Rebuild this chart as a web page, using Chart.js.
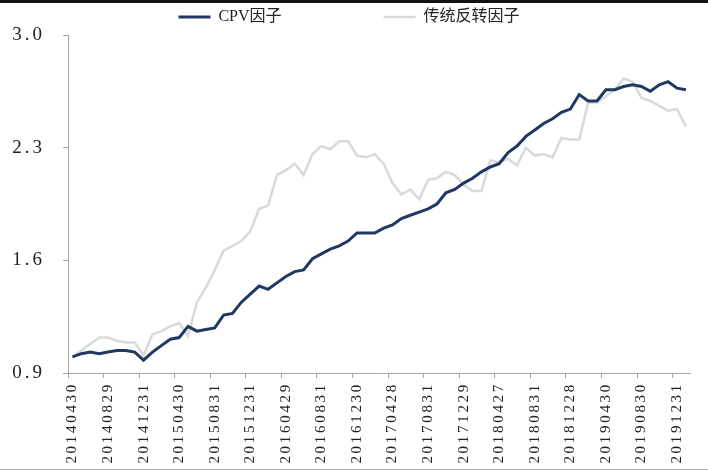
<!DOCTYPE html>
<html>
<head>
<meta charset="utf-8">
<script src="https://cdn.jsdelivr.net/npm/chart.js@4.4.1/dist/chart.umd.min.js"></script>
<style>
  html, body { margin: 0; padding: 0; background: #fff; }
  #wrap { position: relative; width: 708px; height: 471px; }
  #topBar { position: absolute; left: 0; top: 0; width: 708px; height: 3px; background: #111; }
  #bottomLine { position: absolute; left: 0; top: 469px; width: 708px; height: 1px; background: #aaa; }
</style>
</head>
<body>
<div id="wrap">
  <canvas id="chartCanvas" width="708" height="471"></canvas>
  <div id="topBar"></div>
  <div id="bottomLine"></div>
</div>
<script>
const dates = [
  "20140430", "20140530", "20140630", "20140731", "20140829", "20140930", "20141031", "20141128", "20141231",
  "20150130", "20150227", "20150331", "20150430", "20150529", "20150630", "20150731", "20150831", "20150930", "20151030", "20151130", "20151231",
  "20160129", "20160229", "20160331", "20160429", "20160531", "20160630", "20160729", "20160831", "20160930", "20161031", "20161130", "20161230",
  "20170126", "20170228", "20170331", "20170428", "20170531", "20170630", "20170731", "20170831", "20170929", "20171031", "20171130", "20171229",
  "20180131", "20180228", "20180330", "20180427", "20180531", "20180629", "20180731", "20180831", "20180928", "20181031", "20181130", "20181228",
  "20190131", "20190228", "20190329", "20190430", "20190531", "20190628", "20190731", "20190830", "20190930", "20191031", "20191129", "20191231",
  "20200123"
];

const cpv = [
  1.00, 1.02, 1.03, 1.02, 1.03, 1.04, 1.04, 1.03, 0.98, 1.03,
  1.07, 1.11, 1.12, 1.19, 1.16, 1.17, 1.18, 1.26, 1.27, 1.34,
  1.39, 1.44, 1.42, 1.46, 1.50, 1.53, 1.54, 1.61, 1.64, 1.67,
  1.69, 1.72, 1.77, 1.77, 1.77, 1.80, 1.82, 1.86, 1.88, 1.90,
  1.92, 1.95, 2.02, 2.04, 2.08, 2.11, 2.15, 2.18, 2.20, 2.27,
  2.31, 2.37, 2.41, 2.45, 2.48, 2.52, 2.54, 2.63, 2.59, 2.59,
  2.66, 2.66, 2.68, 2.69, 2.68, 2.65, 2.69, 2.71, 2.67, 2.66
];

const reversal = [
  1.00, 1.04, 1.08, 1.12, 1.12, 1.10, 1.09, 1.09, 1.01, 1.14,
  1.16, 1.19, 1.21, 1.13, 1.34, 1.43, 1.54, 1.66, 1.69, 1.72,
  1.78, 1.92, 1.94, 2.13, 2.16, 2.20, 2.13, 2.26, 2.31, 2.29,
  2.34, 2.34, 2.25, 2.24, 2.26, 2.20, 2.08, 2.01, 2.04, 1.98,
  2.10, 2.11, 2.15, 2.13, 2.07, 2.03, 2.03, 2.22, 2.21, 2.23,
  2.19, 2.30, 2.25, 2.26, 2.24, 2.36, 2.35, 2.35, 2.58, 2.58,
  2.62, 2.66, 2.73, 2.71, 2.61, 2.59, 2.56, 2.53, 2.54, 2.43
];

const yTicks = [0.9, 1.6, 2.3, 3.0];

const seriesNames = ["CPV因子", "传统反转因子"];

const serif = "'Liberation Serif', 'Noto Sans CJK SC', serif";
const axisGray = "#a6a6a6";

// spaced-out digits on the axes, like the original
const spacing = { x: "2.7px", y: "3px" };
const letterSpacingPlugin = {
  id: "letterSpacing",
  afterLayout(chart) {
    Object.values(chart.scales).forEach(s => {
      if (s._spaced) return;
      s._spaced = true;
      const orig = s.drawLabels;
      s.drawLabels = function (area) {
        const c = this.ctx;
        c.save();
        c.letterSpacing = spacing[this.id] || "0px";
        orig.call(this, area);
        c.restore();
      };
    });
  }
};

const ctx = document.getElementById("chartCanvas").getContext("2d");

new Chart(ctx, {
  type: "line",
  data: {
    labels: dates,
    datasets: [
      {
        label: seriesNames[0],
        data: cpv,
        borderColor: "#1f3864",
        backgroundColor: "#1f3864",
        borderWidth: 3,
        pointRadius: 0,
        tension: 0,
        fill: false
      },
      {
        label: seriesNames[1],
        data: reversal,
        borderColor: "#d9d9d9",
        backgroundColor: "#d9d9d9",
        borderWidth: 2.5,
        pointRadius: 0,
        tension: 0,
        fill: false
      }
    ]
  },
  options: {
    responsive: false,
    animation: false,
    devicePixelRatio: 1,
    layout: { padding: { left: 0, right: 10, top: 3, bottom: 0 } },
    plugins: {
      tooltip: { enabled: false },
      legend: {
        display: true,
        position: "top",
        labels: {
          usePointStyle: true,
          pointStyle: "line",
          pointStyleWidth: 32,
          padding: 6,
          color: "#222",
          font: { family: serif, size: 16 },
          generateLabels(chart) {
            const items = Chart.defaults.plugins.legend.labels.generateLabels(chart);
            items[0].text = items[0].text + "\u3000\u3000\u3000\u3000\u3000\u3000";
            return items;
          }
        }
      }
    },
    scales: {
      x: {
        type: "category",
        offset: true,
        afterFit(s) { s.height = 98; },
        border: { display: true, color: axisGray, width: 1 },
        grid: {
          offset: true,
          drawOnChartArea: false,
          drawTicks: true,
          tickLength: 5,
          color: c => (c.index !== undefined && c.index % 4 === 0) ? axisGray : "rgba(0,0,0,0)"
        },
        ticks: {
          autoSkip: false,
          maxRotation: 90,
          minRotation: 90,
          padding: 4,
          color: "#222",
          font: { family: serif, size: 15 },
          callback(value, index) {
            return index % 4 === 0 ? dates[index] : "";
          }
        }
      },
      y: {
        min: 0.9,
        max: 3.0,
        afterFit(s) { s.width = 68; },
        afterBuildTicks(s) { s.ticks = yTicks.map(v => ({ value: v })); },
        border: { display: true, color: axisGray, width: 1 },
        grid: {
          drawOnChartArea: false,
          drawTicks: true,
          tickLength: 5,
          color: axisGray
        },
        ticks: {
          padding: 18,
          color: "#222",
          font: { family: serif, size: 19 },
          callback(value) { return Number(value).toFixed(1); }
        }
      }
    }
  },
  plugins: [letterSpacingPlugin]
});
</script>
</body>
</html>
